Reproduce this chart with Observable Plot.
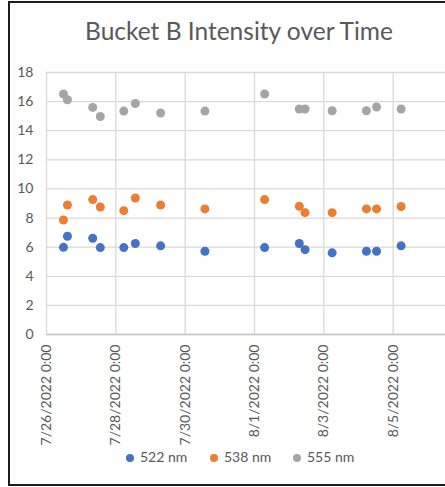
<!DOCTYPE html>
<html>
<head>
<meta charset="utf-8">
<script src="https://cdn.jsdelivr.net/npm/d3@7"></script>
<script src="https://cdn.jsdelivr.net/npm/@observablehq/plot@0.6"></script>
<style>
html, body { margin: 0; padding: 0; overflow: hidden; background: #fff; width: 445px; height: 487px; }
#frame { position: absolute; left: 8px; top: 1px; width: 480px; height: 485px; border: 2px solid #1c1c1c; border-right: none; box-sizing: border-box; }
#title { position: absolute; left: 0; top: 17px; width: 478px; text-align: center; font-family: Lato, "Open Sans", sans-serif; font-size: 24.5px; line-height: 28px; color: #595959; white-space: nowrap; }
#chart { position: absolute; left: 0; top: 60px; width: 470px; }
#legend { position: absolute; left: 0; top: 448px; width: 445px; height: 18px; font-family: Lato, "Open Sans", sans-serif; font-size: 14px; color: #595959; }
.item { position: absolute; top: 0; height: 18px; line-height: 18px; white-space: nowrap; }
.sw { display: inline-block; width: 8px; height: 8px; border-radius: 50%; margin-right: 6px; vertical-align: 0px; }
</style>
</head>
<body>
<div id="frame"></div>
<div id="title">Bucket B Intensity over Time</div>
<div id="chart"></div>
<div id="legend"></div>
<script>
// ---- data ----
const title = "Bucket B Intensity over Time";
const seriesNames = ["522 nm", "538 nm", "555 nm"];
const seriesColors = ["#4472C4", "#ED7D31", "#A5A5A5"];
const times = [
  "2022-07-26T11:45Z", "2022-07-26T14:30Z", "2022-07-27T08:00Z", "2022-07-27T13:15Z",
  "2022-07-28T05:30Z", "2022-07-28T13:30Z", "2022-07-29T07:00Z", "2022-07-30T13:40Z",
  "2022-08-01T07:00Z", "2022-08-02T07:00Z", "2022-08-02T11:00Z", "2022-08-03T05:45Z",
  "2022-08-04T05:30Z", "2022-08-04T12:30Z", "2022-08-05T05:30Z"
];
const values522 = [5.99, 6.75, 6.61, 5.97, 5.97, 6.25, 6.09, 5.72, 5.97, 6.25, 5.83, 5.61, 5.72, 5.72, 6.09];
const values538 = [7.87, 8.90, 9.27, 8.76, 8.51, 9.38, 8.90, 8.63, 9.27, 8.81, 8.37, 8.37, 8.63, 8.63, 8.79];
const values555 = [16.52, 16.13, 15.60, 14.98, 15.35, 15.87, 15.22, 15.35, 16.52, 15.49, 15.49, 15.37, 15.37, 15.63, 15.49];
const xTickLabels = ["2022-07-26T00:00Z", "2022-07-28T00:00Z", "2022-07-30T00:00Z", "2022-08-01T00:00Z", "2022-08-03T00:00Z", "2022-08-05T00:00Z"];
const xDomain = ["2022-07-26T00:00Z", "2022-08-07T00:00Z"];
const yTicks = [0, 2, 4, 6, 8, 10, 12, 14, 16, 18];

// ---- build ----
const allValues = [values522, values538, values555];
const rows = [];
seriesNames.forEach((name, si) => {
  times.forEach((t, i) => rows.push({series: name, time: new Date(t), value: allValues[si][i]}));
});
const xTicks = xTickLabels.map(d => new Date(d));
const fmt = d3.utcFormat("%-m/%-d/%Y %-H:%M");

const chart = Plot.plot({
  width: 470,
  height: 384,
  marginTop: 12,
  marginBottom: 110,
  marginLeft: 46,
  marginRight: 8,
  style: {fontFamily: "Lato, 'Open Sans', sans-serif", fontSize: "14px", color: "#595959", background: "transparent", overflow: "visible", maxWidth: "none"},
  x: {type: "utc", domain: xDomain.map(d => new Date(d))},
  y: {domain: [0, 18]},
  color: {domain: seriesNames, range: seriesColors},
  marks: [
    Plot.gridY(yTicks, {stroke: "#d9d9d9", strokeOpacity: 1, strokeWidth: 1.3}),
    Plot.gridX(xTicks, {stroke: "#d9d9d9", strokeOpacity: 1, strokeWidth: 1.3}),
    Plot.ruleY([0], {stroke: "#c8c8c8", strokeWidth: 1.3}),
    Plot.axisY(yTicks, {tickSize: 0, tickPadding: 13, fill: "#595959", label: null}),
    Plot.axisX(xTicks, {tickSize: 0, tickPadding: 10, tickRotate: -90, tickFormat: fmt, fill: "#595959", label: null}),
    Plot.dot(rows, {x: "time", y: "value", fill: "series", r: 4.5, stroke: "none"})
  ]
});
chart.style.maxWidth = "none";
document.getElementById("chart").appendChild(chart);

document.getElementById("title").textContent = title;
const legend = document.getElementById("legend");
const legendX = [126, 210, 293];
seriesNames.forEach((name, i) => {
  const it = document.createElement("div");
  it.className = "item";
  it.style.left = legendX[i] + "px";
  const sw = document.createElement("span");
  sw.className = "sw";
  sw.style.background = seriesColors[i];
  it.appendChild(sw);
  it.appendChild(document.createTextNode(name));
  legend.appendChild(it);
});
</script>
</body>
</html>
